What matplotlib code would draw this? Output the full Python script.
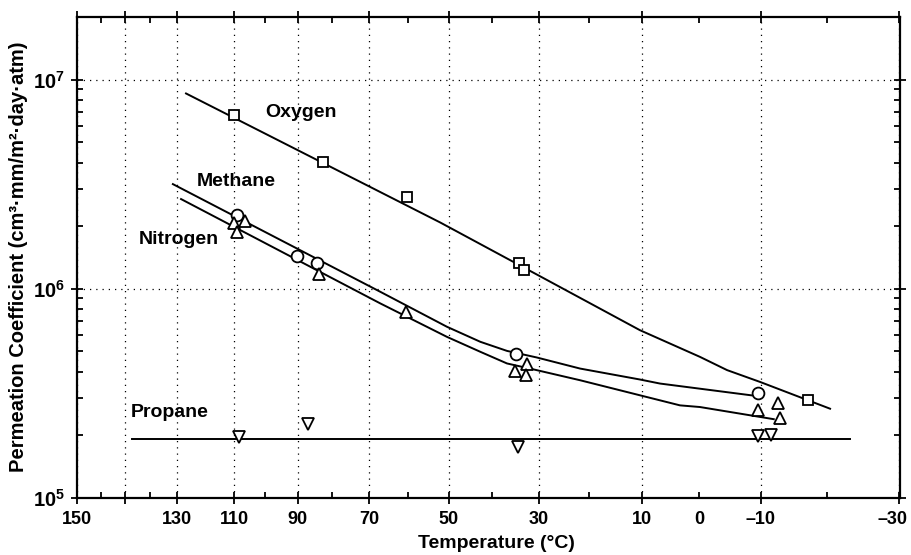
import numpy as np
import matplotlib.pyplot as plt
from matplotlib.ticker import FixedLocator, FixedFormatter, LogLocator, NullFormatter
from matplotlib.transforms import ScaledTranslation

plt.rcParams['font.family'] = ['Liberation Sans', 'DejaVu Sans']
plt.rcParams['font.weight'] = 'bold'
plt.rcParams['mathtext.fontset'] = 'custom'
plt.rcParams['mathtext.rm'] = 'Liberation Sans:bold'
plt.rcParams['mathtext.bf'] = 'Liberation Sans:bold'

# measured points: temperature (deg C), permeation coefficient
o2_T = [110, 82.7, 60.2, 34.3, 33.2, -17.1]
o2_P = [6.74e6, 4.03e6, 2.75e6, 1.32e6, 1.22e6, 2.94e5]
ch4_T = [109.0, 90.3, 84.5, 34.8, -9.5]
ch4_P = [2.25e6, 1.43e6, 1.32e6, 4.85e5, 3.16e5]
n2_T = [106.4, 110.0, 109.2, 83.7, 60.4, 35.0, 32.6, 32.8, -9.5, -12.6, -13.0]
n2_P = [2.11e6, 2.07e6, 1.86e6, 1.17e6, 7.69e5, 4.04e5, 4.34e5, 3.85e5, 2.63e5, 2.83e5, 2.41e5]
c3h8_T = [108.3, 87.1, 34.5, -9.5, -11.5]
c3h8_P = [1.95e5, 2.24e5, 1.74e5, 1.96e5, 2.00e5]

# fitted curves
o2_fit_T = [126.7, 52.0, 28.4, 10.4, -0.1, -4.6, -9.9, -20.4]
o2_fit_P = [8.58e6, 2.07e6, 1.10e6, 6.32e5, 4.71e5, 4.07e5, 3.57e5, 2.66e5]
ch4_fit_T = [131.5, 67.0, 50.4, 42.7, 36.8, 30.5, 21.7, 10.4, 6.8, -8.6]
ch4_fit_P = [3.16e6, 9.65e5, 6.56e5, 5.56e5, 5.03e5, 4.68e5, 4.14e5, 3.67e5, 3.51e5, 3.08e5]
n2_fit_T = [128.5, 67.0, 50.4, 42.7, 36.8, 30.5, 21.7, 3.3, -0.1, -12.0]
n2_fit_P = [2.68e6, 8.49e5, 5.87e5, 4.98e5, 4.38e5, 4.07e5, 3.64e5, 2.76e5, 2.71e5, 2.37e5]
c3h8_fit_T = [147.3, -23.2]
c3h8_fit_P = [1.91e5, 1.91e5]

# axis ticks (reciprocal temperature axis, labelled in deg C)
x_lim = (170.4, -30.1)
x_major = [170.4, 150, 130, 110, 90, 70, 50, 30, 10, -10, -30]
x_major_labels = ['150', '', '130', '110', '90', '70', '50', '30', '10', '\u201310', '\u201330']
x_minor = [160, 140, 100, 80, 60, 40, 20, 0, -20]
x_minor_labels = ['', '', '', '', '', '', '', '0', '']
y_major = [1e5, 1e6, 1e7]
y_major_labels = [r'$\mathbf{10^{5}}$', r'$\mathbf{10^{6}}$', r'$\mathbf{10^{7}}$']

# gas name labels: (text, T, P)
names = [('Oxygen', 100.0, 6.95e6), ('Methane', 122.8, 3.25e6),
         ('Nitrogen', 144.7, 1.71e6), ('Propane', 147.7, 2.56e5)]


# x axis is linear in -1000/T(K), so hot temperatures sit on the left
def fwd(t):
    return -1000.0 / (np.asarray(t, dtype=float) + 273.15)


def inv(x):
    return -1000.0 / np.asarray(x, dtype=float) - 273.15


fig = plt.figure(figsize=(9.12, 5.55), dpi=100)
ax = fig.add_subplot(111)
fig.subplots_adjust(left=0.0844, right=0.9868, top=0.970, bottom=0.1036)

ax.set_xscale('function', functions=(fwd, inv))
ax.set_yscale('log')

lw = 1.4
for T, P in [(o2_fit_T, o2_fit_P), (ch4_fit_T, ch4_fit_P),
             (n2_fit_T, n2_fit_P), (c3h8_fit_T, c3h8_fit_P)]:
    ax.plot(T, P, color='k', lw=lw, zorder=3)

mk = dict(ls='none', mfc='white', mec='k', mew=1.3, zorder=4)
ax.plot(o2_T, o2_P, marker='s', ms=7, **mk)
ax.plot(ch4_T, ch4_P, marker='o', ms=8.5, **mk)
ax.plot(n2_T, n2_P, marker='^', ms=9, **mk)
ax.plot(c3h8_T, c3h8_P, marker='v', ms=9, **mk)

for txt, t, p in names:
    ax.text(t, p, txt, fontsize=14, fontweight='bold', ha='left', va='center')

ax.set_xlim(*x_lim)
ax.set_ylim(1e5, 2e7)

ax.xaxis.set_major_locator(FixedLocator(x_major))
ax.xaxis.set_major_formatter(FixedFormatter(x_major_labels))
ax.xaxis.set_minor_locator(FixedLocator(x_minor))
ax.xaxis.set_minor_formatter(FixedFormatter(x_minor_labels))
ax.yaxis.set_major_locator(FixedLocator(y_major))
ax.yaxis.set_major_formatter(FixedFormatter(y_major_labels))
ax.yaxis.set_minor_locator(LogLocator(base=10, subs=np.arange(2, 10)))
ax.yaxis.set_minor_formatter(NullFormatter())

ax.tick_params(which='both', top=True, right=True, labelsize=13, width=1.3)
ax.tick_params(which='major', direction='inout', length=9, pad=5)
ax.tick_params(which='minor', direction='in', length=4)
ax.tick_params(axis='x', which='minor', pad=9.5)
ax.tick_params(axis='y', which='major', labelsize=14.5, pad=4)

# last x label sits a little inside the right edge, as in the original
last = ax.xaxis.get_major_ticks()[-1].label1
last.set_transform(last.get_transform() + ScaledTranslation(-7 / 100, 0, fig.dpi_scale_trans))

ax.grid(which='major', color='k', lw=0.9, ls=(0, (1, 4)))
for s in ax.spines.values():
    s.set_linewidth(1.6)

ax.set_xlabel('Temperature (\u00b0C)', fontsize=14, fontweight='bold')
ax.xaxis.set_label_coords(0.51, -0.077)
ax.set_ylabel('Permeation Coefficient (cm\u00b3\u00b7mm/m\u00b2\u00b7day\u00b7atm)',
              fontsize=14.5, fontweight='bold', labelpad=4)

fig.savefig('out.png', dpi=100)
